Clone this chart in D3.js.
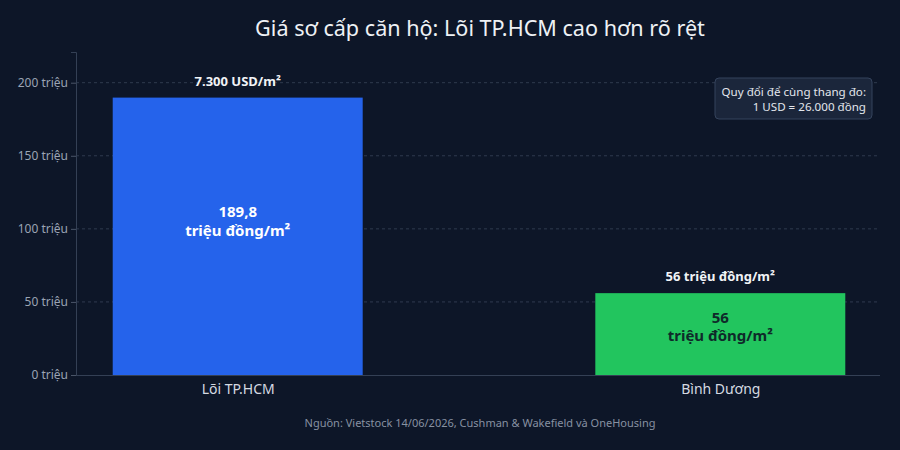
<!DOCTYPE html>
<html><head><meta charset="utf-8">
<script src="https://cdn.jsdelivr.net/npm/d3@7"></script>
<style>
html,body{margin:0;padding:0;background:#0d1628;}
svg{display:block;font-family:"Noto Sans",sans-serif;}
</style></head><body>
<svg id="c" width="900" height="450"></svg>
<script>
const categories = ["Lõi TP.HCM", "Bình Dương"];
const values = [189.8, 56];
const valueLabels = ["189,8", "56"];
const topLabels = ["7.300 USD/m²", "56 triệu đồng/m²"];
const yTicks = [0, 50, 100, 150, 200];
const yTickLabels = ["0 triệu", "50 triệu", "100 triệu", "150 triệu", "200 triệu"];
const colors = ["#2563eb", "#22c55e"];
const innerTextColors = ["#ffffff", "#0f2a2a"];

const W = 900, H = 450;
const m = {l: 76, r: 20, t: 52, b: 75};
const svg = d3.select("#c");
svg.append("rect").attr("width", W).attr("height", H).attr("fill", "#0d1628");

const x = d3.scalePoint().domain(categories).range([m.l + 1, W - m.r + 1]).padding(0.333);
const y = d3.scaleLinear().domain([0, 221]).range([H - m.b, m.t]);
const bw = x.step() * 0.518;

// grid
svg.append("g").selectAll("line").data(yTicks.filter(d => d > 0)).join("line")
  .attr("x1", m.l).attr("x2", W - m.r)
  .attr("y1", d => y(d)).attr("y2", d => y(d))
  .attr("stroke", "#2f3a4e").attr("stroke-dasharray", "3,3").attr("stroke-width", 1);

// y axis
const ya = svg.append("g").attr("transform", `translate(${m.l},0)`)
  .call(d3.axisLeft(y).tickValues(yTicks).tickFormat((d, i) => yTickLabels[i]).tickSize(5).tickPadding(3));
ya.select(".domain").attr("stroke", "#344055");
ya.selectAll(".tick line").attr("stroke", "#4a5568");
ya.selectAll(".tick text").attr("fill", "#9ba4b4").attr("font-size", 12).attr("font-family", "Noto Sans");

// bars
svg.append("g").selectAll("rect").data(values).join("rect")
  .attr("x", (d, i) => x(categories[i]) - bw / 2)
  .attr("width", bw)
  .attr("y", d => y(d))
  .attr("height", d => y(0) - y(d))
  .attr("fill", (d, i) => colors[i]);

// x axis
const xa = svg.append("g").attr("transform", `translate(0,${y(0)})`)
  .call(d3.axisBottom(x).tickSize(0).tickPadding(9));
xa.select(".domain").attr("stroke", "#344055").attr("d", `M${m.l},0.5H${W - m.r}`);
xa.selectAll(".tick text").attr("fill", "#d5dae2").attr("font-size", 14).attr("font-family", "Noto Sans");

// inside labels (two lines)
const firstBase = d => { const h = y(0) - y(d); return (y(d) + y(0)) / 2 - 8 - 0.04 * h; };
const ig = svg.append("g").attr("text-anchor", "middle").attr("font-weight", "bold").attr("font-size", 15);
ig.selectAll("text.v").data(values).join("text").attr("class", "v")
  .attr("fill", (d, i) => innerTextColors[i])
  .attr("x", (d, i) => x(categories[i]))
  .attr("y", d => firstBase(d))
  .text((d, i) => valueLabels[i]);
ig.selectAll("text.u").data(values).join("text").attr("class", "u")
  .attr("fill", (d, i) => innerTextColors[i])
  .attr("x", (d, i) => x(categories[i]))
  .attr("y", d => firstBase(d) + 18.5)
  .text("triệu đồng/m²");

// top labels
svg.append("g").selectAll("text").data(values).join("text")
  .attr("text-anchor", "middle")
  .attr("font-weight", "bold").attr("font-size", 13)
  .attr("fill", "#f1f3f6")
  .attr("x", (d, i) => x(categories[i]))
  .attr("y", d => y(d) - 12)
  .text((d, i) => topLabels[i]);

// title
svg.append("text").attr("x", 480).attr("y", 36).attr("text-anchor", "middle")
  .attr("fill", "#eef1f5").attr("font-size", 21.6).text("Giá sơ cấp căn hộ: Lõi TP.HCM cao hơn rõ rệt");

// annotation box
const ab = svg.append("g");
ab.append("rect").attr("x", 715).attr("y", 78).attr("width", 157).attr("height", 41).attr("rx", 4)
  .attr("fill", "#1b263b").attr("stroke", "#34435c").attr("stroke-width", 1);
ab.append("text").attr("x", 866).attr("y", 95.5).attr("text-anchor", "end")
  .attr("fill", "#e3e7ed").attr("font-size", 11.6).text("Quy đổi để cùng thang đo:");
ab.append("text").attr("x", 866).attr("y", 110.5).attr("text-anchor", "end")
  .attr("fill", "#e3e7ed").attr("font-size", 11.6).text("1 USD = 26.000 đồng");

// source
svg.append("text").attr("x", 480).attr("y", 427).attr("text-anchor", "middle")
  .attr("fill", "#8791a2").attr("font-size", 11)
  .text("Nguồn: Vietstock 14/06/2026, Cushman & Wakefield và OneHousing");
</script>
</body></html>
